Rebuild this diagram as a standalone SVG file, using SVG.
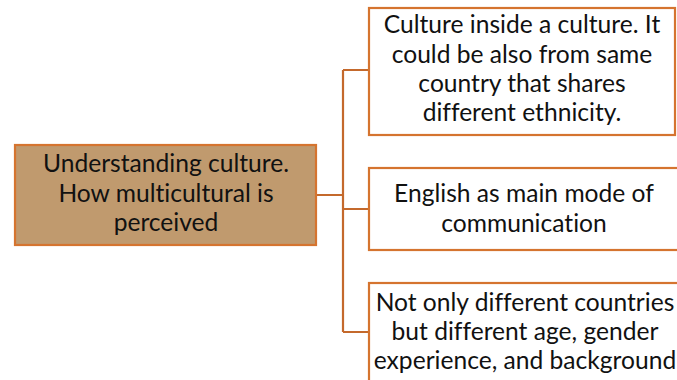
<svg xmlns="http://www.w3.org/2000/svg" width="677" height="380" viewBox="0 0 677 380">
  <style>
    .box { stroke: #D5742F; stroke-width: 2.2; }
    .root { fill: #C09A6E; }
    .leaf { fill: #FFFFFF; }
    .lbl { font-family: Lato, "Open Sans", "Liberation Sans", sans-serif; font-size: 24.6px; fill: #111111; text-anchor: middle; font-variant-ligatures: none; }
    .wire { fill: none; stroke: #C4692C; stroke-width: 2.2; }
  </style>

  <g id="connectors">
    <path class="wire" d="M316,195 H343 M343,70 V332 M343,70 H369 M343,209 H369 M343,332 H369"/>
  </g>

  <g id="root">
    <rect class="box root" x="15" y="145" width="301" height="100"/>
    <text class="lbl" x="166" y="172">Understanding culture.</text>
    <text class="lbl" x="166" y="202">How multicultural is</text>
    <text class="lbl" x="166" y="231">perceived</text>
  </g>

  <g id="leaf-culture">
    <rect class="box leaf" x="369" y="8" width="306" height="127"/>
    <text class="lbl" x="522" y="33">Culture inside a culture. It</text>
    <text class="lbl" x="522" y="63">could be also from same</text>
    <text class="lbl" x="522" y="92">country that shares</text>
    <text class="lbl" x="522" y="121">different ethnicity.</text>
  </g>

  <g id="leaf-english">
    <rect class="box leaf" x="369" y="168" width="320" height="82"/>
    <text class="lbl" x="524" y="202">English as main mode of</text>
    <text class="lbl" x="524" y="232">communication</text>
  </g>

  <g id="leaf-diversity">
    <rect class="box leaf" x="369" y="283" width="320" height="110"/>
    <text class="lbl" x="525" y="311">Not only different countries</text>
    <text class="lbl" x="525" y="340">but different age, gender</text>
    <text class="lbl" x="525" y="369">experience, and background</text>
  </g>
</svg>
